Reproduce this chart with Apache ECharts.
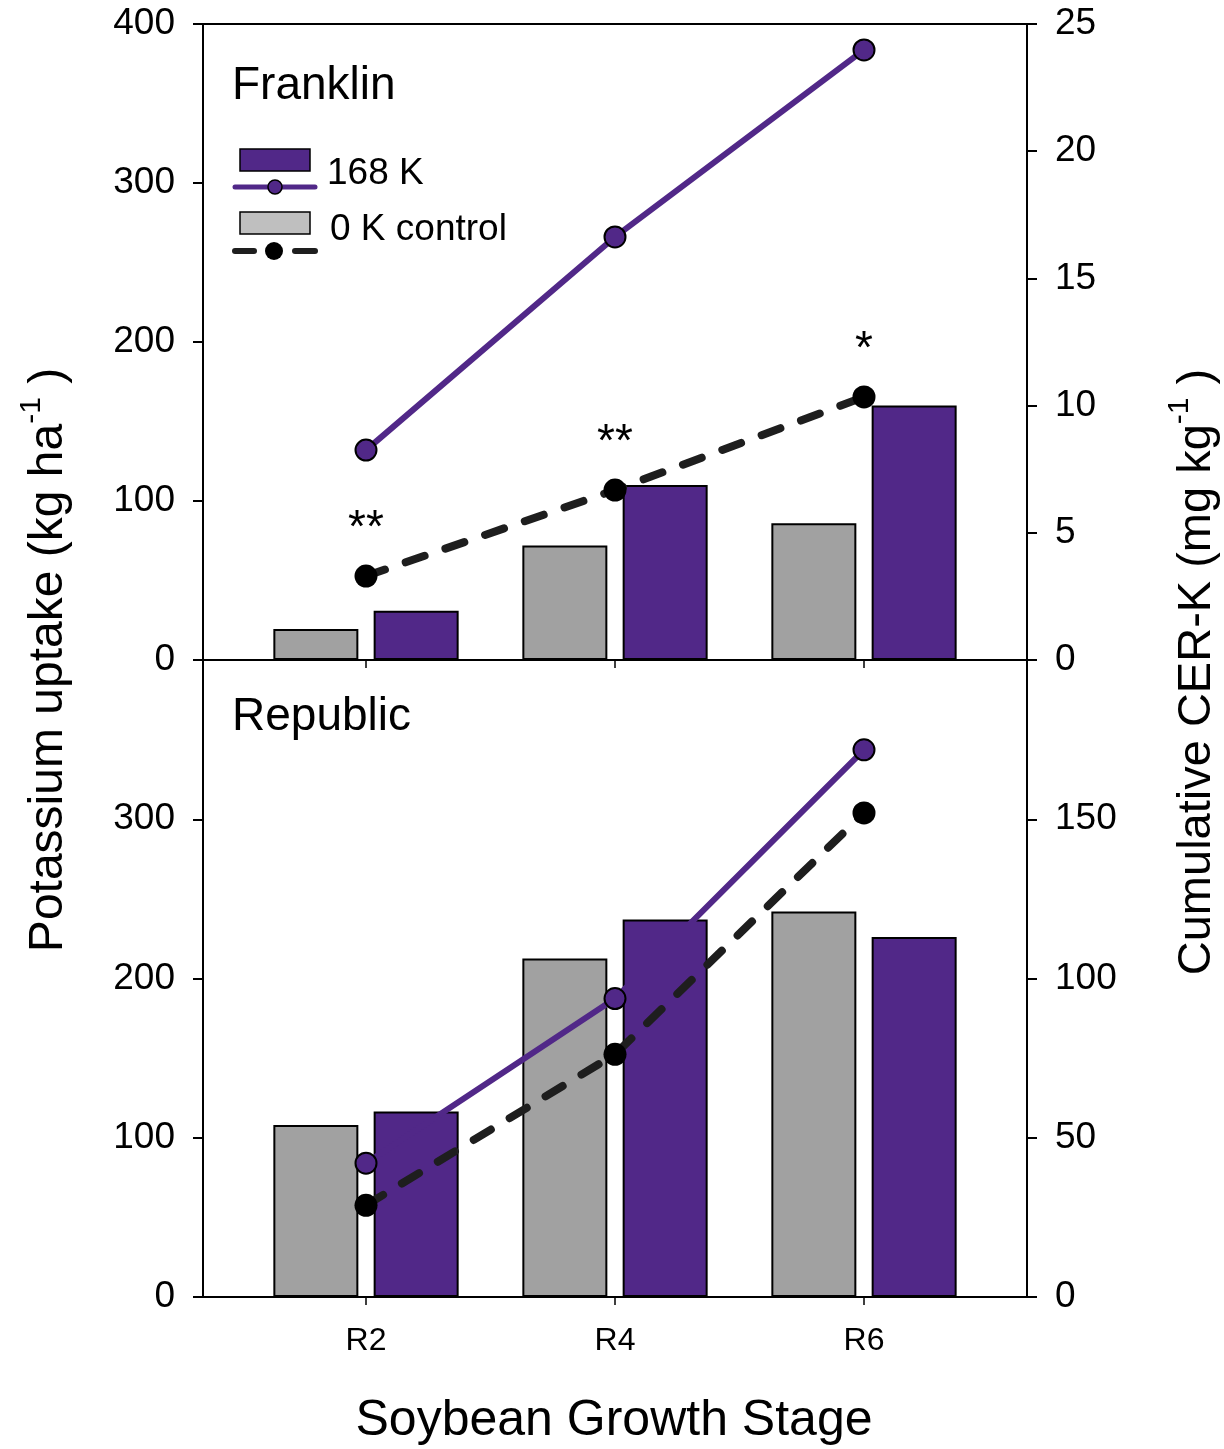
<!DOCTYPE html>
<html>
<head>
<meta charset="utf-8">
<script src="https://cdn.jsdelivr.net/npm/echarts@6/dist/echarts.min.js"></script>
<style>
  html, body { margin: 0; padding: 0; background: #ffffff; }
  #chart { width: 1224px; height: 1449px; }
</style>
</head>
<body>
<div id="chart"></div>
<script>
// Growth stages and their positions on the x scale
const stages = ['R2', 'R4', 'R6'];
const stagePos = [1, 2, 3];

// Franklin: K uptake (kg/ha, bars) and cumulative CER-K (mg/kg, lines)
const franklinUptake0K = [19.5, 72, 86];
const franklinUptake168K = [31, 110, 160];
const franklinCER0K = [3.3, 6.68, 10.34];
const franklinCER168K = [8.25, 16.63, 23.98];
const franklinSig = ['**', '**', '*'];

// Republic: K uptake (kg/ha, bars) and cumulative CER-K (mg/kg, lines)
const republicUptake0K = [108, 212.5, 242];
const republicUptake168K = [116.5, 237, 226];
const republicCER0K = [28.8, 76.2, 152];
const republicCER168K = [42, 93.7, 171.8];

// Axis scales
const uptakeAxis = { min: 0, max: 400, interval: 100 };
const franklinCERAxis = { min: 0, max: 25, interval: 5 };
const republicCERAxis = { min: 0, max: 200, interval: 50 };

const PURPLE = '#512888';
const GRAY = '#a1a1a1';
const DARK = '#1e1e1e';
const FONT = 'Arial, "Liberation Sans", Helvetica, sans-serif';

const xSpan = 163 / 249; // space between frame edge and first/last stage
const xMin = 1 - xSpan;
const xMax = 3 + xSpan;

const pairs = vals => vals.map((v, i) => [stagePos[i], v]);

const axisLineStyle = { color: '#000', width: 2 };

function xAxisDef(gridIndex, withLabels) {
  return {
    type: 'value', gridIndex, min: xMin, max: xMax, position: 'bottom',
    axisLine: { show: true, onZero: false, lineStyle: axisLineStyle },
    axisTick: { show: true, length: 8, customValues: stagePos, lineStyle: { color: '#000', width: 1.5 } },
    axisLabel: {
      show: withLabels, customValues: stagePos, margin: 28,
      fontSize: 32, fontFamily: FONT, color: '#000',
      formatter: v => stages[stagePos.indexOf(Math.round(v))] || ''
    },
    splitLine: { show: false }
  };
}

function yAxisDef(gridIndex, pos, scale, showMax) {
  return {
    type: 'value', gridIndex, position: pos,
    min: scale.min, max: scale.max, interval: scale.interval,
    axisLine: { show: true, lineStyle: axisLineStyle },
    axisTick: { show: true, length: 10, lineStyle: axisLineStyle },
    axisLabel: {
      fontSize: 37, fontFamily: FONT, color: '#000', margin: 28,
      showMaxLabel: showMax
    },
    splitLine: { show: false }
  };
}

function barSeries(name, vals, color, xi, yi) {
  return {
    name, type: 'bar', xAxisIndex: xi, yAxisIndex: yi,
    data: pairs(vals), barWidth: 85, barGap: '18%', z: 2,
    itemStyle: { color, borderColor: '#000', borderWidth: 2 }
  };
}

function line168(vals, xi, yi) {
  return {
    name: '168 K', type: 'line', xAxisIndex: xi, yAxisIndex: yi,
    data: pairs(vals), z: 4, symbol: 'circle', symbolSize: 21,
    lineStyle: { color: PURPLE, width: 6 },
    itemStyle: { color: PURPLE, borderColor: '#000', borderWidth: 2 }
  };
}

function line0(vals, xi, yi, sig) {
  const s = {
    name: '0 K control', type: 'line', xAxisIndex: xi, yAxisIndex: yi,
    data: pairs(vals), z: 4, symbol: 'circle', symbolSize: 23,
    lineStyle: { color: DARK, width: 8, type: [20, 22], cap: 'round' },
    itemStyle: { color: '#000', borderWidth: 0 }
  };
  if (sig) {
    s.label = {
      show: true, position: 'top', distance: 12,
      fontSize: 46, fontFamily: FONT, color: '#000',
      formatter: p => sig[p.dataIndex]
    };
  }
  return s;
}

const chart = echarts.init(document.getElementById('chart'), null, { renderer: 'canvas' });

chart.setOption({
  animation: false,
  backgroundColor: '#ffffff',
  grid: [
    { left: 203, top: 24, width: 824, height: 636 },
    { left: 203, top: 660, width: 824, height: 637 }
  ],
  xAxis: [
    xAxisDef(0, false),
    {
      type: 'value', gridIndex: 0, min: xMin, max: xMax, position: 'top',
      axisLine: { show: true, onZero: false, lineStyle: axisLineStyle },
      axisTick: { show: false }, axisLabel: { show: false }, splitLine: { show: false }
    },
    xAxisDef(1, true)
  ],
  yAxis: [
    yAxisDef(0, 'left', uptakeAxis, true),
    yAxisDef(0, 'right', franklinCERAxis, true),
    yAxisDef(1, 'left', uptakeAxis, false),
    yAxisDef(1, 'right', republicCERAxis, false)
  ],
  series: [
    barSeries('0 K control', franklinUptake0K, GRAY, 0, 0),
    barSeries('168 K', franklinUptake168K, PURPLE, 0, 0),
    line168(franklinCER168K, 0, 1),
    line0(franklinCER0K, 0, 1, franklinSig),
    barSeries('0 K control', republicUptake0K, GRAY, 2, 2),
    barSeries('168 K', republicUptake168K, PURPLE, 2, 2),
    line168(republicCER168K, 2, 3),
    line0(republicCER0K, 2, 3, null)
  ],
  graphic: [
    // panel titles
    { type: 'text', left: 232, top: 63, style: { text: 'Franklin', font: '46px ' + FONT, fill: '#000' } },
    { type: 'text', left: 232, top: 694, style: { text: 'Republic', font: '46px ' + FONT, fill: '#000' } },
    // legend: 168 K
    { type: 'rect', shape: { x: 240, y: 149, width: 70, height: 22 }, style: { fill: PURPLE, stroke: '#000', lineWidth: 1.5 } },
    { type: 'line', shape: { x1: 235, y1: 187, x2: 315, y2: 187 }, style: { stroke: PURPLE, lineWidth: 5, lineCap: 'round' } },
    { type: 'circle', shape: { cx: 275, cy: 187, r: 7 }, style: { fill: PURPLE, stroke: '#000', lineWidth: 1.5 } },
    { type: 'text', x: 327, y: 174, style: { text: '168 K', font: '37px ' + FONT, fill: '#000', verticalAlign: 'middle' } },
    // legend: 0 K control
    { type: 'rect', shape: { x: 240, y: 212, width: 70, height: 22 }, style: { fill: '#bfbfbf', stroke: '#000', lineWidth: 1.5 } },
    { type: 'line', shape: { x1: 235, y1: 251, x2: 254, y2: 251 }, style: { stroke: DARK, lineWidth: 6, lineCap: 'round' } },
    { type: 'line', shape: { x1: 295, y1: 251, x2: 315, y2: 251 }, style: { stroke: DARK, lineWidth: 6, lineCap: 'round' } },
    { type: 'circle', shape: { cx: 274, cy: 251, r: 9 }, style: { fill: '#000' } },
    { type: 'text', x: 330, y: 230, style: { text: '0 K control', font: '37px ' + FONT, fill: '#000', verticalAlign: 'middle' } },
    // axis titles
    {
      type: 'text', x: 45, y: 660, rotation: Math.PI / 2,
      style: {
        text: '{a|Potassium uptake (kg ha}{s|-1}{a| )}',
        align: 'center', verticalAlign: 'middle', fill: '#000',
        rich: {
          a: { fontSize: 48, fontFamily: FONT, verticalAlign: 'bottom' },
          s: { fontSize: 30, fontFamily: FONT, verticalAlign: 'bottom', padding: [0, 0, 26, 0] }
        }
      }
    },
    {
      type: 'text', x: 1193, y: 672, rotation: Math.PI / 2,
      style: {
        text: '{a|Cumulative CER-K (mg kg}{s|-1}{a| )}',
        align: 'center', verticalAlign: 'middle', fill: '#000',
        rich: {
          a: { fontSize: 47, fontFamily: FONT, verticalAlign: 'bottom' },
          s: { fontSize: 30, fontFamily: FONT, verticalAlign: 'bottom', padding: [0, 0, 26, 0] }
        }
      }
    },
    {
      type: 'text', x: 614, y: 1421,
      style: { text: 'Soybean Growth Stage', font: '50px ' + FONT, fill: '#000', align: 'center', verticalAlign: 'middle' }
    }
  ]
});
</script>
</body>
</html>
